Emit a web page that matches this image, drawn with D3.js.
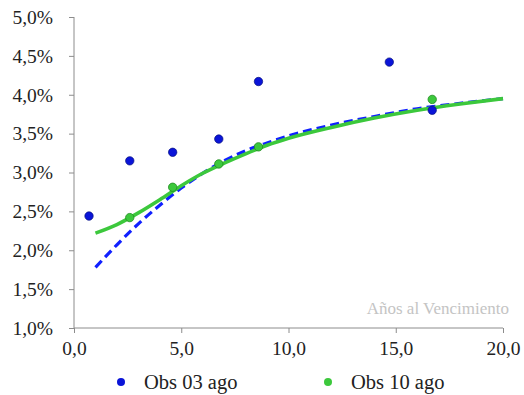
<!DOCTYPE html>
<html>
<head>
<meta charset="utf-8">
<script src="https://cdn.jsdelivr.net/npm/d3@7"></script>
</head>
<body style="margin:0;background:#fff">
<svg></svg>
<script>
// observed yields
const obs03x = [0.7, 2.6, 4.6, 6.75, 8.6, 14.7, 16.7];
const obs03y = [2.44, 3.15, 3.26, 3.43, 4.17, 4.42, 3.80];
const obs10x = [2.6, 4.6, 6.75, 8.6, 16.7];
const obs10y = [2.42, 2.81, 3.11, 3.33, 3.94];

// fitted curves
const curveX = [1, 2, 3, 4, 5, 6, 7, 8, 9, 10, 12, 14, 16, 18, 20];
const fit03 = [1.78, 2.07, 2.34, 2.58, 2.80, 2.99, 3.15, 3.28, 3.38, 3.47, 3.61, 3.72, 3.82, 3.89, 3.95];
const fit10 = [2.22, 2.33, 2.48, 2.65, 2.83, 2.99, 3.12, 3.24, 3.35, 3.44, 3.58, 3.70, 3.80, 3.88, 3.95];

const xTicks = [0, 5, 10, 15, 20];
const yTicks = [1.0, 1.5, 2.0, 2.5, 3.0, 3.5, 4.0, 4.5, 5.0];
const seriesNames = ["Obs 03 ago", "Obs 10 ago"];

const svgWidth = 524, svgHeight = 395;
const margin = { top: 17, right: 21, bottom: 67, left: 74 };
const width = svgWidth - margin.left - margin.right;
const height = svgHeight - margin.top - margin.bottom;

const serif = "'Liberation Serif', 'Times New Roman', serif";
const blue = "#0a14d8", green = "#3cc83c";

const svg = d3.select("svg")
    .attr("width", svgWidth)
    .attr("height", svgHeight)
    .style("display", "block");
const g = svg.append("g").attr("transform", "translate(" + margin.left + "," + margin.top + ")");

const x = d3.scaleLinear().domain([0, 20]).range([0, width]);
const y = d3.scaleLinear().domain([1, 5]).range([height, 0]);

const fmt = d3.format(".1f");
const comma = s => s.replace(".", ",");

const yAxis = g.append("g")
    .call(d3.axisLeft(y).tickValues(yTicks).tickSize(5).tickPadding(16)
        .tickFormat(d => comma(fmt(d)) + "%"));
yAxis.select(".domain").attr("d", "M0," + height + "V0");

const xAxis = g.append("g")
    .attr("transform", "translate(0," + height + ")")
    .call(d3.axisBottom(x).tickValues(xTicks).tickSize(5).tickPadding(8)
        .tickFormat(d => comma(fmt(d))));
xAxis.select(".domain").attr("d", "M0,0H" + width);

[yAxis, xAxis].forEach(a => {
    a.attr("font-family", serif).attr("font-size", 19.5);
    a.selectAll("text").style("font-family", serif).style("font-size", "19.5px").attr("fill", "#222");
    a.selectAll("path, line").attr("stroke", "#8c8c8c");
});

g.append("text")
    .attr("x", width + 6)
    .attr("y", height - 14)
    .attr("text-anchor", "end")
    .style("font-family", serif)
    .style("font-size", "17px")
    .attr("fill", "#c4c4c4")
    .text("Años al Vencimiento");

const line = d3.line()
    .curve(d3.curveMonotoneX)
    .x(d => x(d[0]))
    .y(d => y(d[1]));

g.append("path")
    .datum(d3.zip(curveX, fit03))
    .attr("fill", "none")
    .attr("stroke", "#1020ff")
    .attr("stroke-width", 3.2)
    .attr("stroke-dasharray", "9,5")
    .attr("d", line);

g.append("path")
    .datum(d3.zip(curveX, fit10))
    .attr("fill", "none")
    .attr("stroke", green)
    .attr("stroke-width", 3.6)
    .attr("d", line);

g.selectAll(".dot03")
    .data(d3.zip(obs03x, obs03y))
    .join("circle")
    .attr("cx", d => x(d[0]))
    .attr("cy", d => y(d[1]))
    .attr("r", 4.2)
    .attr("fill", blue)
    .attr("stroke", "#061080")
    .attr("stroke-width", 0.7);

g.selectAll(".dot10")
    .data(d3.zip(obs10x, obs10y))
    .join("circle")
    .attr("cx", d => x(d[0]))
    .attr("cy", d => y(d[1]))
    .attr("r", 4.2)
    .attr("fill", green)
    .attr("stroke", "#1f8a1f")
    .attr("stroke-width", 0.8);

// legend
const legend = svg.append("g").attr("transform", "translate(0,382)");
const legX = [121, 328];
const legC = [blue, green];
seriesNames.forEach((name, i) => {
    legend.append("circle")
        .attr("cx", legX[i]).attr("cy", 0).attr("r", 4)
        .attr("fill", legC[i]);
    legend.append("text")
        .attr("x", legX[i] + 23).attr("y", 7)
        .style("font-family", serif)
        .style("font-size", "20.5px")
        .attr("fill", "#222")
        .text(name);
});
</script>
</body>
</html>
